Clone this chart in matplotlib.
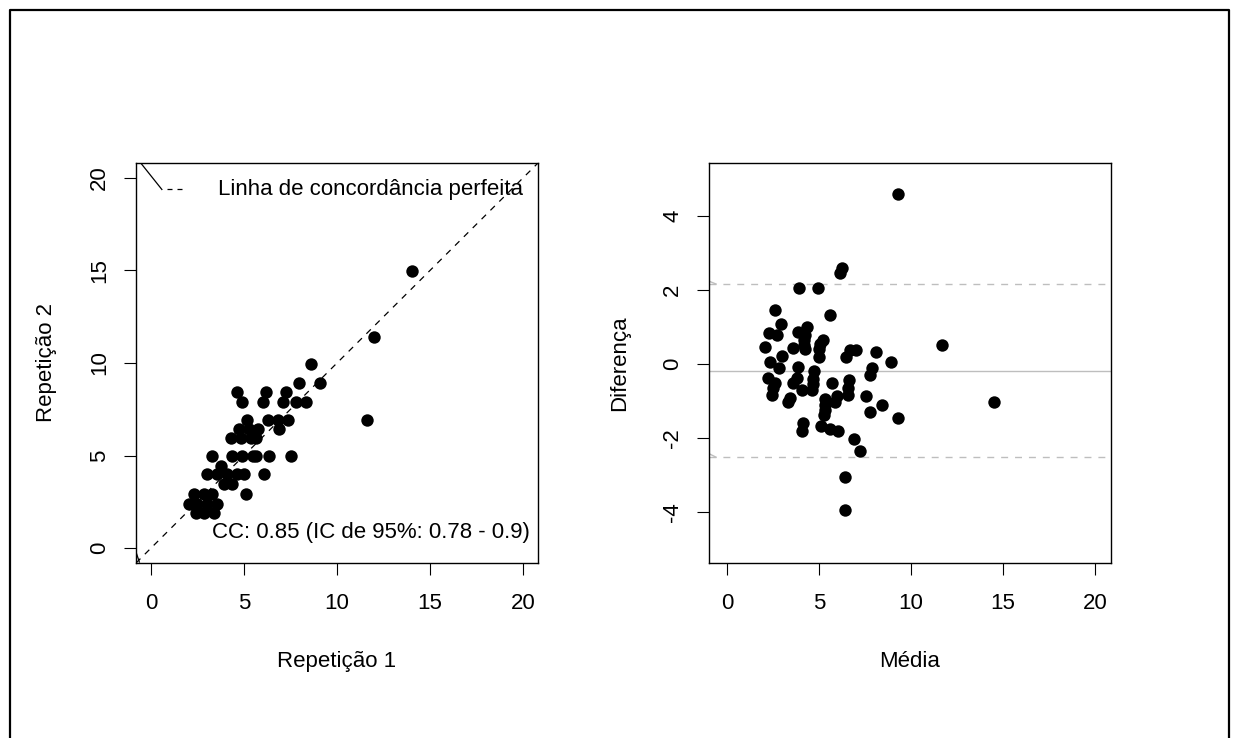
import matplotlib
matplotlib.use("Agg")
import matplotlib.pyplot as plt
from matplotlib.lines import Line2D
import numpy as np

plt.rcParams['font.family'] = ['Liberation Sans', 'DejaVu Sans']
plt.rcParams['axes.unicode_minus'] = False

# ---- Left panel data: Repetição 1 vs Repetição 2 ----
rep1 = [14.04, 12.0, 8.58, 7.95, 9.06, 4.65, 6.18, 7.26, 4.92, 6.0, 7.09, 7.8, 8.35,
        5.19, 6.27, 6.81, 7.35, 11.6,
        4.74, 5.28, 5.73, 6.9,
        4.29, 4.83, 5.37, 5.64,
        3.3, 4.38, 4.92, 5.46, 5.64, 6.36, 7.54,
        3.75,
        3.03, 3.57, 4.11, 4.65, 5.01, 6.09,
        3.93, 4.38,
        5.1, 2.31, 2.85, 3.3,
        2.04, 2.49, 3.03, 3.57,
        2.4, 2.85, 3.39]
rep2 = [14.96, 11.4, 9.93, 8.9, 8.9, 8.44, 8.44, 8.44, 7.9, 7.9, 7.9, 7.9, 7.9,
        6.9, 6.9, 6.9, 6.9, 6.9,
        6.43, 6.43, 6.43, 6.43,
        5.95, 5.95, 5.95, 5.95,
        4.96, 4.96, 4.96, 4.96, 4.96, 4.96, 4.96,
        4.42,
        3.98, 3.98, 3.98, 3.98, 3.98, 3.98,
        3.44, 3.44,
        2.94, 2.94, 2.94, 2.94,
        2.4, 2.4, 2.4, 2.4,
        1.92, 1.92, 1.92]

# ---- Right panel data: Média vs Diferença ----
media = [9.28, 6.23, 6.14, 3.91, 4.95, 2.63, 5.61, 2.93, 2.3, 2.7, 3.87, 4.33, 4.24, 5.2,
         4.2, 4.2, 4.22,
         2.07, 2.97, 3.6,
         5.05, 5.02, 5.0,
         6.68, 7.03, 6.49, 8.1, 8.93, 11.68,
         2.34, 2.84, 3.84, 7.86, 7.77,
         4.7, 4.68, 4.65, 4.62,
         2.25, 2.61, 2.52, 2.43, 3.79, 3.6, 4.06, 3.42, 3.33, 5.69,
         6.65, 6.6, 6.55, 5.96, 5.87,
         5.35, 5.32, 5.3, 5.28,
         7.54, 8.41, 7.77, 9.28, 14.5,
         4.15, 4.06, 5.11, 5.6, 6.05, 6.92, 7.25, 6.43, 6.43]
diferenca = [4.59, 2.59, 2.45, 2.05, 2.05, 1.47, 1.32, 1.08, 0.83, 0.78, 0.86, 1.01, 0.78, 0.65,
             0.65, 0.5, 0.4,
             0.47, 0.22, 0.42,
             0.55, 0.4, 0.2,
             0.38, 0.38, 0.2, 0.33, 0.06, 0.5,
             0.04, -0.12, -0.07, -0.12, -0.3,
             -0.2, -0.4, -0.55, -0.7,
             -0.39, -0.52, -0.66, -0.84, -0.39, -0.52, -0.7, -0.93, -1.02, -0.52,
             -0.43, -0.65, -0.85, -0.88, -1.02,
             -0.95, -1.1, -1.25, -1.38,
             -0.86, -1.11, -1.31, -1.45, -1.03,
             -1.59, -1.8, -1.69, -1.77, -1.8, -2.04, -2.35, -3.05, -3.95]

media_dif = -0.18
limite_sup = 2.16
limite_inf = -2.52

ticks_rep = [0, 5, 10, 15, 20]
ticks_dif = [-4, -2, 0, 2, 4]
cc_text = "CC: 0.85 (IC de 95%: 0.78 - 0.9)"
legend_text = "Linha de concordância perfeita"

W, H = 1235, 738
fig = plt.figure(figsize=(W / 100, H / 100), dpi=100)

# outer border
fig.add_artist(Line2D([10 / W, 10 / W, 1229 / W, 1229 / W],
                      [0, 1 - 10 / H, 1 - 10 / H, 0],
                      transform=fig.transFigure, color='black', lw=1.6))

FS = 16
def style(ax):
    for s in ax.spines.values():
        s.set_linewidth(1.0)
    ax.tick_params(direction='out', length=8.5, width=0.8, labelsize=FS, pad=10)
    ax.tick_params(axis='x', pad=13)
    for lab in ax.get_yticklabels():
        lab.set_rotation(90)
        lab.set_va('center')

ax1 = fig.add_axes([136 / W, 1 - 563 / H, 402 / W, 400 / H])
ax1.set_xlim(-0.8, 20.8)
ax1.set_ylim(-0.8, 20.8)
ax1.plot([-0.8, 20.8], [-0.8, 20.8], ls=(0, (5, 5)), color='black', lw=0.9)
ax1.scatter(rep1, rep2, s=80, color='black', zorder=3, linewidths=0)
ax1.set_xticks(ticks_rep)
ax1.set_yticks(ticks_rep)
ax1.set_xlabel("Repetição 1", fontsize=FS, labelpad=27)
ax1.set_ylabel("Repetição 2", fontsize=FS, labelpad=23)
# odd little solid segments
ax1.plot([-1.3, 0.59], [21.75, 19.37], color='black', lw=0.9)
ax1.plot([-0.95, -0.62], [0.25, -0.75], color='black', lw=0.9)
# legend sample + text
ax1.plot([0.85, 1.9], [19.37, 19.37], ls=(0, (4, 4)), color='black', lw=0.9)
ax1.text(3.6, 19.37, legend_text, fontsize=FS, va='center', ha='left')
ax1.text(3.26, 0.86, cc_text, fontsize=FS, va='center', ha='left')
style(ax1)

ax2 = fig.add_axes([709 / W, 1 - 563 / H, 402 / W, 400 / H])
ax2.set_xlim(-0.98, 20.87)
ax2.set_ylim(-5.38, 5.43)
ax2.axhline(media_dif, color='#BEBEBE', lw=1.0)
ax2.axhline(limite_sup, color='#BEBEBE', lw=1.0, ls=(0, (5, 5)))
ax2.axhline(limite_inf, color='#BEBEBE', lw=1.0, ls=(0, (5, 5)))
ax2.plot([-1.0, -0.6], [2.24, 2.16], color='#BEBEBE', lw=1.0)
ax2.plot([-1.0, -0.6], [-2.42, -2.52], color='#BEBEBE', lw=1.0)
ax2.scatter(media, diferenca, s=80, color='black', zorder=3, linewidths=0)
ax2.set_xticks(ticks_rep)
ax2.set_yticks(ticks_dif)
ax2.set_xlabel("Média", fontsize=FS, labelpad=27)
ax2.set_ylabel("Diferença", fontsize=FS, labelpad=23)
style(ax2)

fig.savefig("out.png", dpi=100)
